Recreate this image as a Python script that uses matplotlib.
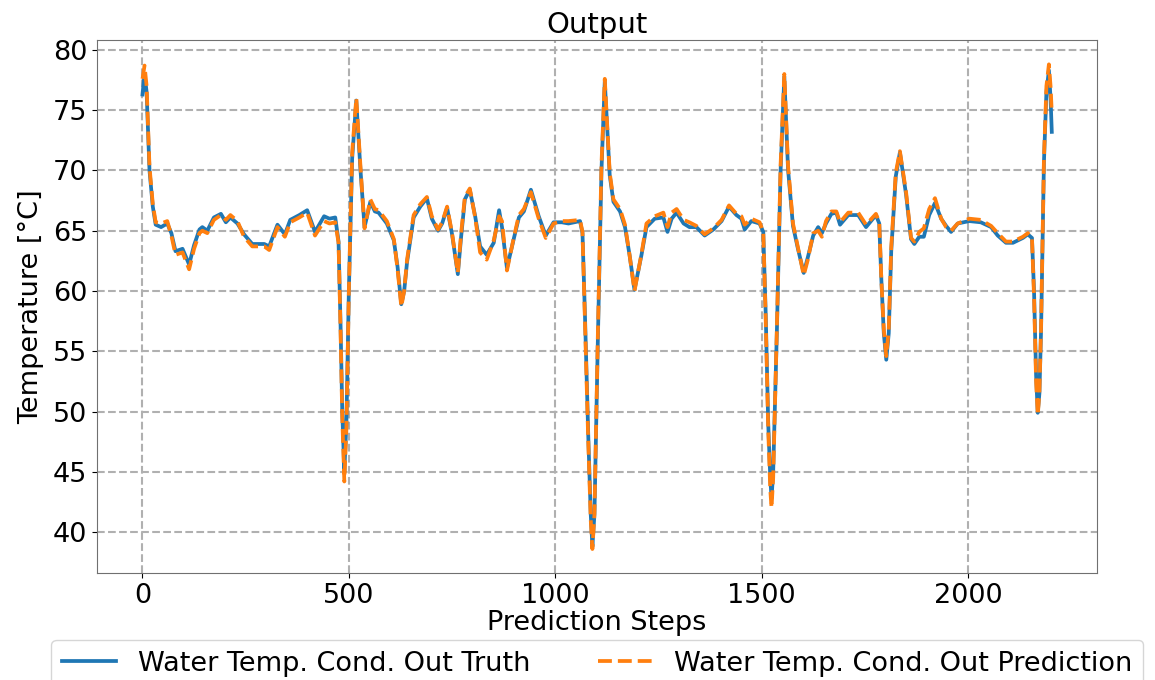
import matplotlib
matplotlib.use('Agg')
from matplotlib import pyplot as plt

steps = [0, 5, 10, 17, 25, 32, 45, 60, 70, 80, 97, 113, 125, 138, 145, 157, 173, 190,
         202, 213, 230, 246, 266, 295, 307, 327, 345, 358, 380, 399, 418, 440, 453, 467,
         475, 480, 484, 489, 494, 500, 508, 518, 528, 538, 552, 563, 572, 592, 609, 618,
         627, 634, 641, 657, 673, 689, 701, 716, 726, 738, 750, 764, 772, 781, 793, 806,
         818, 834, 851, 864, 871, 883, 900, 912, 924, 941, 960, 977, 996, 1016, 1032, 1060,
         1066, 1072, 1080, 1086, 1090, 1095, 1103, 1112, 1120, 1132, 1141, 1157, 1169, 1180,
         1192, 1209, 1221, 1241, 1262, 1272, 1282, 1294, 1311, 1325, 1342, 1362, 1383, 1403,
         1421, 1439, 1451, 1459, 1475, 1495, 1504, 1510, 1516, 1521, 1524, 1528, 1537, 1546,
         1555, 1564, 1576, 1588, 1602, 1612, 1625, 1637, 1646, 1656, 1669, 1681, 1690, 1710,
         1734, 1753, 1777, 1785, 1790, 1796, 1802, 1808, 1814, 1825, 1835, 1850, 1862, 1870,
         1882, 1893, 1906, 1920, 1935, 1947, 1959, 1975, 2003, 2031, 2056, 2072, 2092, 2109,
         2133, 2145, 2155, 2160, 2165, 2169, 2173, 2177, 2184, 2190, 2196, 2200, 2203]

truth = [76.3, 78.0, 76.5, 70.0, 67.0, 65.5, 65.3, 65.6, 64.8, 63.3, 63.5, 62.2, 63.8, 65.1, 65.3, 65.0, 66.1, 66.4,
         65.7, 66.1, 65.6, 64.7, 63.9, 63.9, 63.7, 65.5, 64.7, 65.9, 66.3, 66.7, 64.9, 66.2, 66.0, 66.1,
         64.1, 57.0, 50.0, 45.0, 49.0, 60.0, 71.0, 75.8, 70.1, 65.3, 67.4, 66.6, 66.5, 65.6, 64.2, 62.0,
         58.9, 60.0, 62.4, 66.1, 67.0, 67.7, 66.0, 65.0, 65.6, 66.9, 64.7, 61.4, 64.5, 67.6, 68.4, 66.2,
         63.7, 63.0, 64.0, 66.7, 65.3, 61.9, 64.4, 66.1, 66.6, 68.4, 66.2, 64.6, 65.7, 65.7, 65.6, 65.8,
         64.8, 58.0, 48.0, 41.5, 38.8, 41.5, 55.5, 70.0, 77.4, 69.6, 67.4, 66.6, 65.3, 63.0,
         60.1, 63.0, 65.3, 66.0, 66.1, 64.9, 66.0, 66.5, 65.6, 65.3, 65.3, 64.6, 65.1, 65.8,
         67.0, 66.3, 66.0, 65.1, 65.8, 65.6, 64.9, 58.0, 49.0, 44.5, 42.8, 45.0, 56.7, 70.0,
         77.8, 70.1, 65.4, 63.5, 61.5, 62.8, 64.6, 65.3, 64.8, 65.6, 66.4, 66.5, 65.5, 66.3,
         66.3, 65.3, 66.3, 65.6, 61.0, 56.5, 54.3, 56.5, 63.3, 69.5, 71.5, 68.0, 64.3, 63.9,
         64.5, 64.5, 66.3, 67.3, 66.0, 65.4, 64.9, 65.6, 65.8, 65.7, 65.3, 64.6, 64.0, 64.0,
         64.4, 64.7, 64.4, 60.0, 53.0, 49.9, 51.5, 56.7, 70.7, 76.5, 78.3, 76.0, 73.2]

prediction = [77.6, 78.7, 77.0, 70.3, 67.2, 65.7, 65.6, 65.8, 64.6, 63.0, 63.2, 61.8, 63.5, 64.8, 65.0, 64.8, 65.9, 66.3,
              65.9, 66.3, 65.8, 64.5, 63.7, 63.7, 63.4, 65.3, 64.5, 65.7, 66.1, 66.5, 64.6, 65.8, 65.6, 65.7,
              64.0, 56.5, 49.5, 44.2, 48.5, 60.0, 71.5, 76.0, 70.4, 65.2, 67.6, 66.8, 66.7, 65.8, 64.3, 61.8,
              58.7, 60.0, 62.6, 66.3, 67.2, 67.8, 66.2, 65.1, 65.7, 67.0, 64.8, 61.5, 64.8, 67.8, 68.5, 66.1,
              63.2, 62.6, 64.2, 66.2, 65.8, 61.7, 64.5, 66.3, 66.8, 68.2, 66.0, 64.4, 65.6, 65.8, 65.8, 65.9,
              64.9, 57.5, 47.5, 41.0, 38.6, 41.5, 56.0, 70.5, 77.6, 69.8, 67.6, 66.8, 65.5, 63.0,
              60.0, 63.1, 65.6, 66.2, 66.5, 65.3, 66.5, 66.8, 65.9, 65.7, 65.4, 64.7, 65.2, 65.9,
              67.1, 66.4, 66.2, 65.5, 66.0, 65.7, 64.9, 57.5, 48.5, 43.5, 42.0, 44.5, 57.0, 70.5,
              78.0, 70.4, 65.6, 63.6, 61.3, 62.6, 64.8, 65.0, 64.5, 65.8, 66.6, 66.6, 65.7, 66.5,
              66.5, 65.5, 66.4, 65.7, 61.0, 56.8, 54.6, 56.8, 63.6, 69.8, 71.6, 68.2, 64.4, 64.1,
              64.9, 65.2, 66.8, 67.7, 66.0, 65.3, 65.0, 65.6, 66.0, 65.9, 65.4, 64.8, 64.1, 64.1,
              64.5, 64.8, 64.4, 59.5, 52.5, 49.7, 51.5, 57.0, 71.0, 77.0, 78.8, 77.0, 74.8]

plt.rcParams['font.family'] = 'DejaVu Sans'

fig = plt.figure(figsize=(11.55, 6.8), dpi=100)
ax = fig.add_axes([0.084, 0.157, 0.866, 0.784])

ax.plot(steps, truth, linestyle='solid', color='#1f77b4', linewidth=2.7,
        label='Water Temp. Cond. Out Truth')
ax.plot(steps, prediction, linestyle='dashed', color='#ff7f0e', linewidth=2.7,
        label='Water Temp. Cond. Out Prediction')

ax.set_title('Output', fontsize=21, pad=5)
ax.set_xlabel('Prediction Steps', fontsize=19.5, labelpad=1)
ax.set_ylabel('Temperature [°C]', fontsize=19.5, labelpad=6)
ax.set_xticks([0, 500, 1000, 1500, 2000])
ax.set_yticks([40, 45, 50, 55, 60, 65, 70, 75, 80])
ax.tick_params(labelsize=19.5)
ax.grid(True, linestyle='--', color='#b0b0b0', linewidth=1.5)
for s in ax.spines.values():
    s.set_color('#707070')

ax.legend(loc='upper center', bbox_to_anchor=(0.5, -0.125), ncol=2, fontsize=19.5,
          columnspacing=2.5, borderaxespad=0)

plt.savefig('out.png', dpi=100)
